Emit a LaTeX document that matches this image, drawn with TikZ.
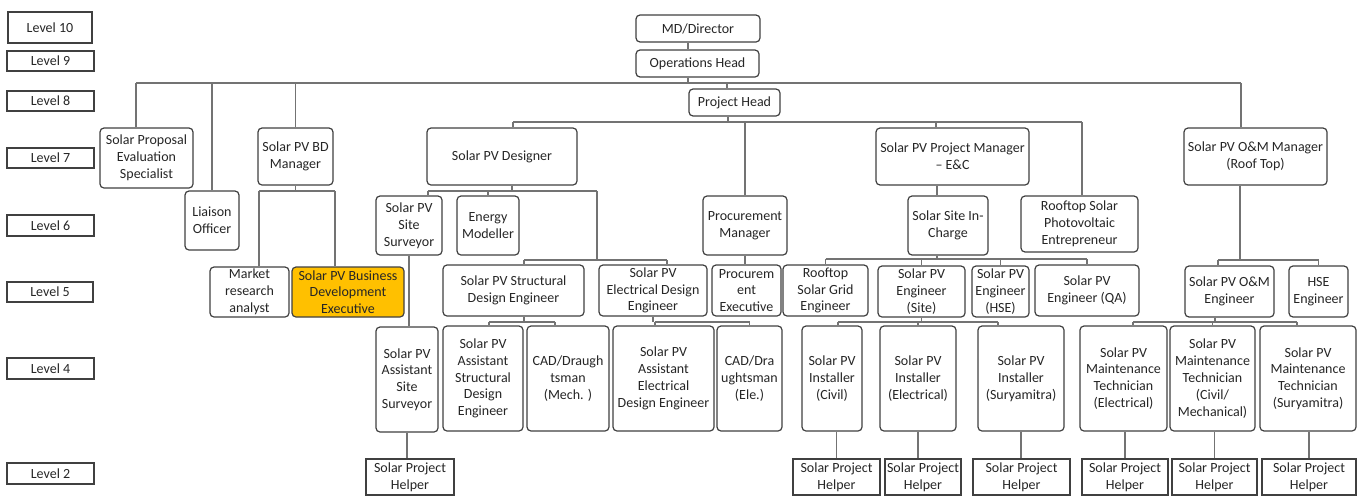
\documentclass[tikz,border=0pt]{standalone}
\usepackage{fontspec}
\setmainfont{Carlito}
\usetikzlibrary{calc,shadows}
\definecolor{amber}{RGB}{255,192,0}
\newcommand{\OB}[7][box]{\node[#1, minimum width={(#5-#4)*0.75pt}, minimum height={(#7-#6)*0.75pt}] (#2) at ({(#4+#5)/2},{(#6+#7)/2}) {#3};}
\begin{document}
\begin{tikzpicture}[x=0.75pt,y=-0.75pt,
  txt/.style={align=center, inner sep=0pt, text=black!85, font=\fontsize{10.5}{12.6}\selectfont},
  box/.style={txt, draw=black!75, line width=0.9pt, rounded corners=3pt, fill=white},
  hbox/.style={box, fill=amber},
  lvl/.style={txt, draw=black!75, line width=0.9pt, fill=white, drop shadow={shadow xshift=0.8pt, shadow yshift=-0.8pt, opacity=0.35}},
  hlp/.style={lvl},
  conn/.style={draw=black!55, line width=1.1pt}]
\useasboundingbox (0,0) rectangle (1362,497);

% level labels
\OB[lvl]{l10}{Level 10}{8}{92}{12}{43}
\OB[lvl]{l9}{Level 9}{7}{94}{51}{71}
\OB[lvl]{l8}{Level 8}{7}{94}{91}{111}
\OB[lvl]{l7}{Level 7}{7}{94}{148}{168}
\OB[lvl]{l6}{Level 6}{7}{94}{215}{236}
\OB[lvl]{l5}{Level 5}{7}{93}{282}{302}
\OB[lvl]{l4}{Level 4}{7}{94}{358}{379}
\OB[lvl]{l2}{Level 2}{7}{94}{463}{484}

% bus coordinates
\coordinate (b1) at (0,83);
\coordinate (b2) at (0,122);
\coordinate (b3) at (0,191);
\coordinate (b4) at (0,260);
\coordinate (b6) at (0,322);
\coordinate (j1) at (597,191);

% connectors (drawn first, boxes on top)
\begin{scope}[on background layer/.try]
\end{scope}

% top
\OB{md}{MD/Director}{636}{760}{15}{42}
\OB{ops}{Operations Head}{636}{759}{50}{77}
\OB{ph}{Project Head}{689}{780}{89}{116}
% level 7
\OB{pes}{Solar Proposal\\Evaluation\\Specialist}{100}{193}{128}{188}
\OB{bdm}{Solar PV BD\\Manager}{258}{333}{128}{185}
\OB{des}{Solar PV Designer}{427}{577}{128}{185}
\OB{pm}{Solar PV Project Manager\\– E\&C}{876}{1029}{128}{185}
\OB{om}{Solar PV O\&M Manager\\(Roof Top)}{1184}{1327}{128}{185}
% level 6
\OB{lo}{Liaison\\Officer}{185}{239}{191}{250}
\OB{ss}{Solar PV\\Site\\Surveyor}{376}{442}{196}{255}
\OB{em}{Energy\\Modeller}{457}{519}{196}{255}
\OB{pmg}{Procurement\\Manager}{703}{787}{196}{255}
\OB{sic}{Solar Site In-\\Charge}{908}{988}{196}{255}
\OB{rspe}{Rooftop Solar\\Photovoltaic\\Entrepreneur}{1021}{1138}{196}{252}
% level 5
\OB{mra}{Market\\research\\analyst}{210}{289}{267}{317}
\OB[hbox]{bde}{Solar PV Business\\Development\\Executive}{292}{404}{267}{317}
\OB{sde}{Solar PV Structural\\Design Engineer}{443}{584}{265}{316}
\OB{ede}{Solar PV\\Electrical Design\\Engineer}{599}{707}{265}{316}
\OB{pe}{Procurem\\ent\\Executive}{712}{781}{265}{316}
\OB{rsge}{Rooftop\\Solar Grid\\Engineer}{783}{868}{265}{316}
\OB{ens}{Solar PV\\Engineer\\(Site)}{878}{965}{266}{317}
\OB{enh}{Solar PV\\Engineer\\(HSE)}{972}{1029}{266}{317}
\OB{enq}{Solar PV\\Engineer (QA)}{1035}{1139}{265}{316}
\OB{ome}{Solar PV O\&M\\Engineer}{1185}{1274}{266}{317}
\OB{hse}{HSE\\Engineer}{1289}{1348}{266}{317}
% level 4
\OB{ass}{Solar PV\\Assistant\\Site\\Surveyor}{376}{438}{327}{432}
\OB{asde}{Solar PV\\Assistant\\Structural\\Design\\Engineer}{443}{523}{326}{431}
\OB{cadm}{CAD/Draugh\\tsman\\(Mech. )}{527}{609}{326}{431}
\OB{aede}{Solar PV\\Assistant\\Electrical\\Design Engineer}{613}{714}{326}{431}
\OB{cade}{CAD/Dra\\ughtsman\\(Ele.)}{717}{782}{326}{431}
\OB{ic}{Solar PV\\Installer\\(Civil)}{802}{862}{326}{431}
\OB{ie}{Solar PV\\Installer\\(Electrical)}{880}{956}{326}{431}
\OB{isu}{Solar PV\\Installer\\(Suryamitra)}{978}{1064}{326}{431}
\OB{mte}{Solar PV\\Maintenance\\Technician\\(Electrical)}{1080}{1167}{326}{431}
\OB{mtc}{Solar PV\\Maintenance\\Technician\\(Civil/\\Mechanical)}{1170}{1255}{326}{431}
\OB{mts}{Solar PV\\Maintenance\\Technician\\(Suryamitra)}{1260}{1356}{326}{431}
% level 2
\OB[hlp]{h1}{Solar Project\\Helper}{366}{454}{459}{495}
\OB[hlp]{h2}{Solar Project\\Helper}{793}{880}{459}{495}
\OB[hlp]{h3}{Solar Project\\Helper}{885}{961}{459}{495}
\OB[hlp]{h4}{Solar Project\\Helper}{973}{1070}{459}{495}
\OB[hlp]{h5}{Solar Project\\Helper}{1082}{1168}{459}{495}
\OB[hlp]{h6}{Solar Project\\Helper}{1172}{1257}{459}{495}
\OB[hlp]{h7}{Solar Project\\Helper}{1262}{1356}{459}{495}

% attach points
\coordinate (t0) at ($(md.south)+(-10,0)$);
\coordinate (a1) at ($(pes.north)+(-10.5,0)$);
\coordinate (a4) at ($(ph.north)+(-7.5,0)$);
\coordinate (a5) at ($(om.north)+(-14.5,0)$);
\coordinate (p0) at ($(ph.south)+(-6.5,0)$);
\coordinate (p1) at ($(des.north)+(11,0)$);
\coordinate (p3) at ($(pm.north)+(-16.5,0)$);
\coordinate (p4) at ($(rspe.north)+(2.5,0)$);
\coordinate (d0) at ($(des.south)+(10,0)$);
\coordinate (d1) at ($(ss.north)+(19,0)$);
\coordinate (d3) at ($(sde.north)+(10.5,0)$);
\coordinate (d4) at ($(ede.north)+(14,0)$);
\coordinate (m1) at ($(mra.north)+(9.5,0)$);
\coordinate (m2) at ($(bde.north)+(-13,0)$);
\coordinate (c1) at ($(pm.south)+(-15.5,0)$);
\coordinate (s0) at ($(sic.south)+(-11,0)$);
\coordinate (e1) at ($(ic.north)+(6,0)$);
\coordinate (e3) at ($(isu.north)+(-23,0)$);
\coordinate (o0) at ($(om.south)+(-15.5,0)$);
\coordinate (o1) at ($(ome.north)+(-11.5,0)$);
\coordinate (q0) at ($(ome.south)+(-14.5,0)$);
\coordinate (q1) at ($(mte.north)+(9.5,0)$);
\coordinate (q3) at ($(mts.north)+(-11,0)$);
\coordinate (r0) at ($(sde.south)+(10.5,0)$);
\coordinate (r1) at ($(asde.north)+(6,0)$);
\coordinate (r2) at ($(cadm.north)+(-13,0)$);
\coordinate (k1) at ($(aede.north)+(-8.5,0)$);

% MD / Ops / bus 1
\draw[conn] (t0) -- (t0 |- ops.north);
\draw[conn] (t0 |- ops.south) -- (t0 |- b1);
\draw[conn] (a1 |- b1) -- (a5 |- b1);
\draw[conn] (a1) -- (a1 |- b1);
\draw[conn] (lo.north) -- (lo.north |- b1);
\draw[conn] (bdm.north) -- (bdm.north |- b1);
\draw[conn] (a4) -- (a4 |- b1);
\draw[conn] (a5) -- (a5 |- b1);
% Project Head bus
\draw[conn] (p0) -- (p0 |- b2);
\draw[conn] (p1 |- b2) -- (p4 |- b2);
\draw[conn] (p1) -- (p1 |- b2);
\draw[conn] (pmg.north) -- (pmg.north |- b2);
\draw[conn] (p3) -- (p3 |- b2);
\draw[conn] (p4) -- (p4 |- b2);
% Designer
\draw[conn] (d0) -- (d0 |- b3);
\draw[conn] (d1 |- b3) -- (j1);
\draw[conn] (d1) -- (d1 |- b3);
\draw[conn] (em.north) -- (em.north |- b3);
\draw[conn] (j1) -- (j1 |- b4);
\draw[conn] (d3 |- b4) -- (d4 |- b4);
\draw[conn] (d3) -- (d3 |- b4);
\draw[conn] (d4) -- (d4 |- b4);
% BD manager
\draw[conn] (bdm.south) -- (bdm.south |- b3);
\draw[conn] (m1 |- b3) -- (m2 |- b3);
\draw[conn] (m1) -- (m1 |- b3);
\draw[conn] (m2) -- (m2 |- b3);
% site surveyor chain
\draw[conn] (ss.south) -- (ss.south |- ass.north);
\draw[conn] (ass.south) -- (ass.south |- h1.north);
% procurement
\draw[conn] (pmg.south) -- (pmg.south |- pe.north);
% PM E&C
\draw[conn] (c1) -- (c1 |- sic.north);
\draw[conn] (s0) -- (s0 |- 0,259);
\draw[conn] (rsge.north |- 0,259) -- (enq.north |- 0,259);
\draw[conn] (rsge.north) -- (rsge.north |- 0,259);
\draw[conn] (ens.north) -- (ens.north |- 0,259);
\draw[conn] (enh.north) -- (enh.north |- 0,259);
\draw[conn] (enq.north) -- (enq.north |- 0,259);
% Engineer site -> installers
\draw[conn] (ens.south) -- (ens.south |- b6);
\draw[conn] (e1 |- b6) -- (e3 |- b6);
\draw[conn] (e1) -- (e1 |- b6);
\draw[conn] (ie.north) -- (ie.north |- b6);
\draw[conn] (e3) -- (e3 |- b6);
\draw[conn] (h2.north) -- (h2.north |- ic.south);
\draw[conn] (ie.south) -- (ie.south |- h3.north);
\draw[conn] (isu.south) -- (isu.south |- h4.north);
% O&M
\draw[conn] (o0) -- (o0 |- b4);
\draw[conn] (o1 |- b4) -- (hse.north |- b4);
\draw[conn] (o1) -- (o1 |- b4);
\draw[conn] (hse.north) -- (hse.north |- b4);
\draw[conn] (q0) -- (q0 |- b6);
\draw[conn] (q1 |- b6) -- (q3 |- b6);
\draw[conn] (q1) -- (q1 |- b6);
\draw[conn] (mtc.north) -- (mtc.north |- b6);
\draw[conn] (q3) -- (q3 |- b6);
\draw[conn] (h5.north) -- (h5.north |- mte.south);
\draw[conn] (h6.north) -- (h6.north |- mtc.south);
\draw[conn] (h7.north) -- (h7.north |- mts.south);
% structural / electrical design
\draw[conn] (r0) -- (r0 |- b6);
\draw[conn] (r1 |- b6) -- (r2 |- b6);
\draw[conn] (r1) -- (r1 |- b6);
\draw[conn] (r2) -- (r2 |- b6);
\draw[conn] (ede.south) -- (ede.south |- b6);
\draw[conn] (k1 |- b6) -- (cade.north |- b6);
\draw[conn] (k1) -- (k1 |- b6);
\draw[conn] (cade.north) -- (cade.north |- b6);
\end{tikzpicture}
\end{document}
